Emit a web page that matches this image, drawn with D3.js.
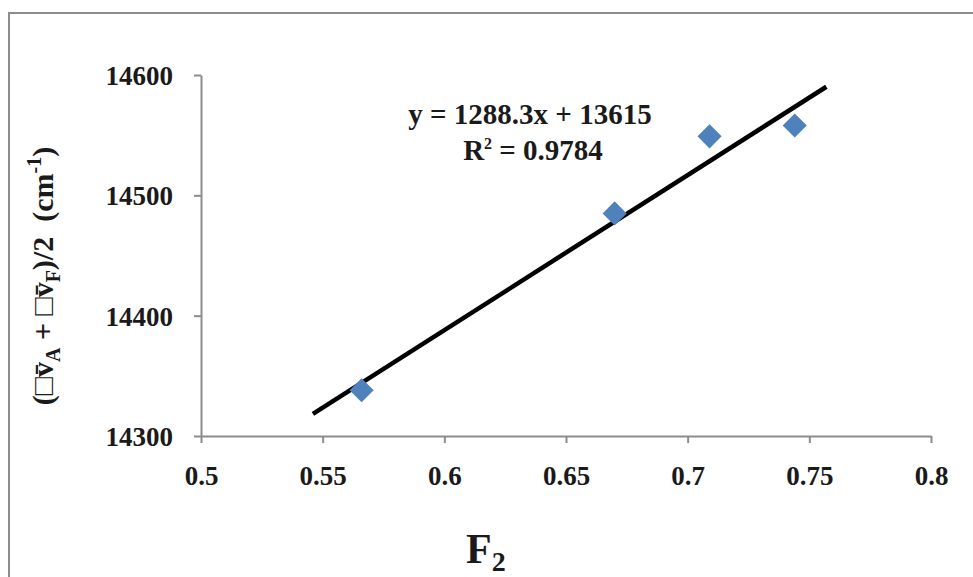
<!DOCTYPE html>
<html>
<head>
<meta charset="utf-8">
<script src="https://cdn.jsdelivr.net/npm/d3@7"></script>
<style>
  html, body { margin: 0; padding: 0; background: #fff; }
  svg { display: block; }
  text { font-family: "Liberation Serif", "Times New Roman", serif; font-weight: bold; fill: #1a1a1a; white-space: pre; }
</style>
</head>
<body>
<svg id="chart" width="973" height="577"></svg>
<script>
// Measured points: F2 against mean wavenumber (cm^-1)
const fValues = [0.566, 0.670, 0.709, 0.744];
const waveValues = [14338, 14485, 14549, 14558];

// Linear fit reported on the chart, drawn with a small forecast on both sides
const fitSlope = 1288.3;
const fitIntercept = 13615;
const fitR2 = 0.9784;
const fitRange = [0.546, 0.757];

// Axis ticks
const xTicks = [0.5, 0.55, 0.6, 0.65, 0.7, 0.75, 0.8];
const yTicks = [14300, 14400, 14500, 14600];

const svg = d3.select("#chart");
const W = 973, H = 577;

// Chart-area frame
svg.append("rect")
  .attr("x", 9).attr("y", 13)
  .attr("width", W).attr("height", H)
  .attr("fill", "#fff")
  .attr("stroke", "#8c8c8c")
  .attr("stroke-width", 2);

const x = d3.scaleLinear().domain([0.5, 0.8]).range([201, 931]);
const y = d3.scaleLinear().domain([14300, 14600]).range([436, 75]);

const axisColor = "#8c8c8c";
const tickFont = 27;

// X axis
const gx = svg.append("g")
  .attr("transform", `translate(0,${y(14300)})`)
  .call(d3.axisBottom(x).tickValues(xTicks).tickSize(7).tickSizeOuter(0)
        .tickFormat(d => String(d)));
gx.select(".domain").attr("stroke", axisColor).attr("stroke-width", 2);
gx.selectAll(".tick line").attr("stroke", axisColor).attr("stroke-width", 2);
gx.selectAll(".tick text")
  .attr("font-size", tickFont).attr("dy", null).attr("y", 49)
  .style("font-family", "'Liberation Serif', serif").style("font-weight", "bold")
  .attr("fill", "#1a1a1a");

// Y axis
const gy = svg.append("g")
  .attr("transform", `translate(${x(0.5)},0)`)
  .call(d3.axisLeft(y).tickValues(yTicks).tickSize(7).tickSizeOuter(0)
        .tickFormat(d3.format("d")));
gy.select(".domain").attr("stroke", axisColor).attr("stroke-width", 2);
gy.selectAll(".tick line").attr("stroke", axisColor).attr("stroke-width", 2);
gy.selectAll(".tick text")
  .attr("font-size", tickFont).attr("x", -28).attr("dy", "0.35em")
  .style("font-family", "'Liberation Serif', serif").style("font-weight", "bold")
  .attr("fill", "#1a1a1a");

// Trendline
const line = d3.line().x(d => x(d)).y(d => y(fitSlope * d + fitIntercept));
svg.append("path")
  .datum(fitRange)
  .attr("d", line)
  .attr("fill", "none")
  .attr("stroke", "#000")
  .attr("stroke-width", 4.5);

// Diamond markers
const diamond = d3.symbol().type(d3.symbolSquare).size(290);
svg.append("g").selectAll("path")
  .data(fValues.map((f, i) => [f, waveValues[i]]))
  .join("path")
  .attr("d", diamond)
  .attr("transform", d => `translate(${x(d[0])},${y(d[1])}) rotate(45)`)
  .attr("fill", "#4f81bd");

// Fit equation
const eq = svg.append("text")
  .attr("x", 530).attr("y", 124)
  .attr("text-anchor", "middle")
  .attr("font-size", 29);
eq.text(`y = ${fitSlope}x + ${fitIntercept}`);

const r2 = svg.append("text")
  .attr("x", 533).attr("y", 160)
  .attr("text-anchor", "middle")
  .attr("font-size", 29);
r2.append("tspan").text("R");
r2.append("tspan").attr("font-size", 16).attr("dy", -11).text("2");
r2.append("tspan").attr("dy", 11).text(` = ${fitR2}`);

// X axis title
const xt = svg.append("text")
  .attr("x", 466).attr("y", 563)
  .attr("font-size", 42);
xt.append("tspan").text("F");
xt.append("tspan").attr("font-size", 28).attr("dy", 8).text("2");

// Y axis title
const yt = svg.append("text")
  .attr("transform", "translate(53,276) rotate(-90)")
  .attr("text-anchor", "middle")
  .attr("font-size", 30);
yt.append("tspan").text("(□v\u0304");
yt.append("tspan").attr("font-size", 20).attr("dy", 7).text("A");
yt.append("tspan").attr("dy", -7).text(" + □v\u0304");
yt.append("tspan").attr("font-size", 20).attr("dy", 7).text("F");
yt.append("tspan").attr("dy", -7).text(")/2  (cm");
yt.append("tspan").attr("font-size", 20).attr("dy", -12).text("-1");
yt.append("tspan").attr("dy", 12).text(")");
</script>
</body>
</html>
